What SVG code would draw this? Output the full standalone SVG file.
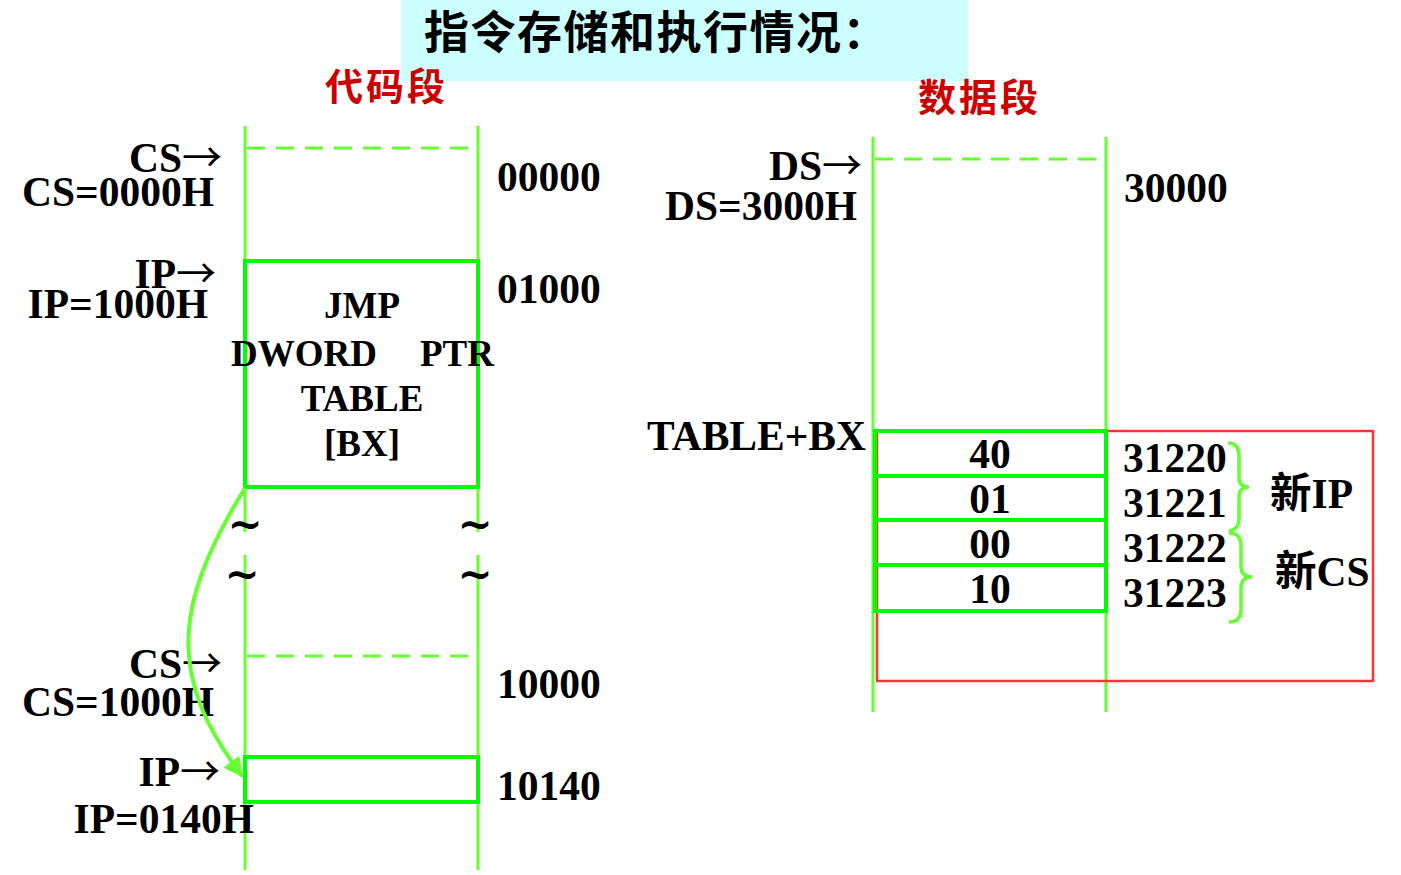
<svg xmlns="http://www.w3.org/2000/svg" width="1401" height="875" viewBox="0 0 1401 875">
<defs>
<style>
.t{font-family:"Liberation Serif","Noto Sans CJK SC",serif;font-weight:bold;font-size:41.5px;fill:#000}
.m{font-family:"Liberation Serif","Noto Sans CJK SC",serif;font-weight:bold;font-size:37px;fill:#000}
.a{font-family:"Noto Sans CJK SC",sans-serif;font-weight:normal;font-size:40px}
.til{font-family:"DejaVu Serif",serif;font-weight:bold;font-size:42px;fill:#000}
.cjk{font-family:"Noto Sans CJK SC",sans-serif;font-weight:bold}
.ln{stroke:#66ff33;stroke-width:3;fill:none}
.br{stroke:#66ff33;stroke-width:3.5;fill:none}
.dash{stroke:#66ff33;stroke-width:3;stroke-dasharray:18 11;fill:none}
.box{stroke:#00ff00;stroke-width:4;fill:none}
</style>
<marker id="ah" viewBox="0 0 10 10" refX="9" refY="5" markerWidth="5" markerHeight="5" orient="auto" markerUnits="strokeWidth">
<path d="M0,0 L10,5 L0,10 z" fill="#66ff33"/>
</marker>
</defs>
<rect width="1401" height="875" fill="#fff"/>
<g id="title">
<rect x="401" y="0" width="567" height="81" fill="#ccffff"/>
<text x="424" y="49" class="cjk" font-size="45" letter-spacing="1.5">指令存储和执行情况：</text>
</g>
<g id="label-code">
<text x="325" y="100" class="cjk" font-size="38" letter-spacing="3" fill="#cc0000">代码段</text>
</g>
<g id="label-data">
<text x="918" y="111" class="cjk" font-size="38" letter-spacing="3" fill="#cc0000">数据段</text>
</g>
<g id="code-segment">
<line class="ln" x1="245" y1="126" x2="245" y2="532"/>
<line class="ln" x1="478" y1="126" x2="478" y2="532"/>
<line class="ln" x1="245" y1="555" x2="245" y2="870"/>
<line class="ln" x1="478" y1="555" x2="478" y2="870"/>
<line class="dash" x1="247" y1="148" x2="476" y2="148"/>
<line class="dash" x1="247" y1="656" x2="476" y2="656"/>
<text class="til" x="245" y="539" text-anchor="middle">~</text>
<text class="til" x="475" y="539" text-anchor="middle">~</text>
<text class="til" x="242" y="589" text-anchor="middle">~</text>
<text class="til" x="475" y="589" text-anchor="middle">~</text>
</g>
<g id="cs-top">
<text class="t" x="222" y="172" text-anchor="end">CS<tspan class="a">→</tspan></text>
<text class="t" x="214" y="206" text-anchor="end">CS=0000H</text>
<text class="t" x="497" y="191">00000</text>
</g>
<g id="jmp-instr">
<rect class="box" x="245" y="261" width="233" height="226"/>
<text class="t" x="497" y="303">01000</text>
<text class="m" x="362" y="318" text-anchor="middle">JMP</text>
<text class="m" x="231" y="366">DWORD</text>
<text class="m" x="494" y="366" text-anchor="end">PTR</text>
<text class="m" x="362" y="411" text-anchor="middle">TABLE</text>
<text class="m" x="362" y="456" text-anchor="middle">[BX]</text>
</g>
<g id="ip-top">
<text class="t" x="216" y="288" text-anchor="end">IP<tspan class="a">→</tspan></text>
<text class="t" x="208" y="318" text-anchor="end">IP=1000H</text>
</g>
<g id="cs-new">
<text class="t" x="222" y="678" text-anchor="end">CS<tspan class="a">→</tspan></text>
<text class="t" x="214" y="716" text-anchor="end">CS=1000H</text>
<text class="t" x="497" y="698">10000</text>
</g>
<g id="target-instr">
<rect class="box" x="245" y="757" width="233" height="45"/>
<text class="t" x="220" y="786" text-anchor="end">IP<tspan class="a">→</tspan></text>
<text class="t" x="254" y="833" text-anchor="end">IP=0140H</text>
<text class="t" x="497" y="800">10140</text>
</g>
<g id="data-segment">
<line class="ln" x1="873" y1="137" x2="873" y2="712"/>
<line class="ln" x1="1106" y1="137" x2="1106" y2="712"/>
<line class="dash" x1="875" y1="159" x2="1104" y2="159"/>
<text class="t" x="862" y="180" text-anchor="end">DS<tspan class="a">→</tspan></text>
<text class="t" x="857" y="220" text-anchor="end">DS=3000H</text>
<text class="t" x="1124" y="202">30000</text>
<text class="t" x="866" y="450" text-anchor="end">TABLE+BX</text>
</g>
<g id="table">
<rect x="877" y="431" width="496" height="250" fill="none" stroke="#ff3333" stroke-width="2.5"/>
<rect class="box" x="875" y="431" width="231" height="45"/>
<rect class="box" x="875" y="476" width="231" height="44"/>
<rect class="box" x="875" y="520" width="231" height="45"/>
<rect class="box" x="875" y="565" width="231" height="46"/>
<text class="t" x="990" y="468" text-anchor="middle">40</text>
<text class="t" x="990" y="513" text-anchor="middle">01</text>
<text class="t" x="990" y="558" text-anchor="middle">00</text>
<text class="t" x="990" y="603" text-anchor="middle">10</text>
<text class="t" x="1123" y="472">31220</text>
<text class="t" x="1123" y="517">31221</text>
<text class="t" x="1123" y="562">31222</text>
<text class="t" x="1123" y="607">31223</text>
</g>
<g id="new-ip">
<path class="br" d="M1228,443 Q1239,443 1239,456 L1239,478 Q1239,487 1249,487 Q1239,487 1239,497 L1239,518 Q1239,530 1229,531"/>
<text class="t" x="1270" y="508">新IP</text>
</g>
<g id="new-cs">
<path class="br" d="M1229,533 Q1241,533 1241,546 L1241,566 Q1241,577 1252,577 Q1241,577 1241,588 L1241,610 Q1241,622 1229,622"/>
<text class="t" x="1275" y="586">新CS</text>
</g>
<g id="connectors">
<path d="M245,488 C170,610 170,680 242,776" fill="none" stroke="#66ff33" stroke-width="4" marker-end="url(#ah)"/>
</g>
</svg>
